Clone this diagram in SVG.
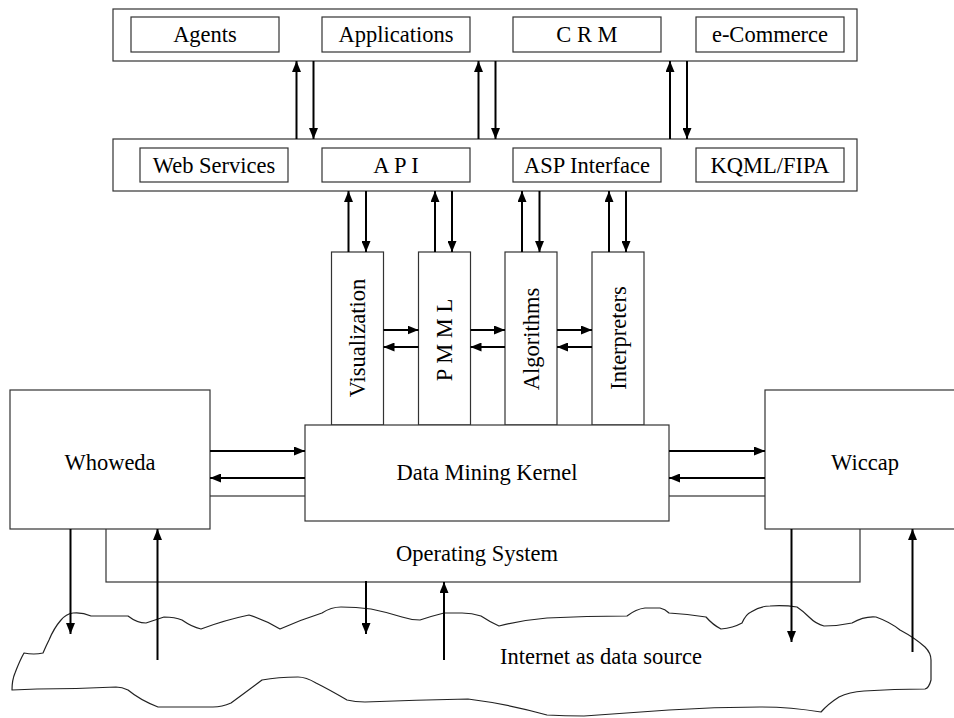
<svg xmlns="http://www.w3.org/2000/svg" width="954" height="718" viewBox="0 0 954 718">
<style>
.box{fill:#fff;stroke:#333;stroke-width:1.2}
.t{font-family:"Liberation Serif","Times New Roman",serif;font-size:22.5px;fill:#000;text-anchor:middle}
.a{stroke:#000;stroke-width:2;fill:none;marker-end:url(#ah)}
.l{stroke:#222;stroke-width:1.2;fill:none;stroke-linejoin:round}
</style>
<defs>
<marker id="ah" markerUnits="userSpaceOnUse" markerWidth="11" markerHeight="9" refX="11" refY="4.5" orient="auto">
<path d="M0,0 L11,4.5 L0,9 z" fill="#000"/>
</marker>
</defs>
<rect width="954" height="718" fill="#fff"/>

<g id="cloud">
<path class="l" d="M73,613 Q82,612 91,616 L128,616 Q137,623 146,623 L164,617 Q175,617 182,620 Q192,627 201,629 Q225,620 249,615 Q265,620 280,629 Q300,620 322,613 Q331,607 341,607 Q356,607 371,609 Q386,612 402,617 Q411,620 420,620 Q432,616 444,613 L462,613 Q472,613 481,616 Q490,622 499,626 Q523,620 547,618 Q587,616 627,616 Q636,609 645,608 L660,608 Q665,609 669,613 Q687,614 706,617 Q713,625 721,629 Q733,628 742,623 Q746,614 751,612 Q760,606 770,606 Q784,605 797,607 Q803,611 809,617 Q816,624 824,626 Q838,626 852,623 Q864,616 876,617 Q890,622 900,630 Q915,638 925,647 Q931,653 931,660 L931,680 Q929,688 925,689 Q894,689 864,691 Q849,692 839,697 Q828,704 821,712 Q790,707 760,707 Q714,707 669,710 Q626,713 584,716 Q565,716 547,715 Q508,704 468,699 Q416,700 365,702 Q355,702 347,700 Q330,690 316,683 Q306,677 298,677 Q278,677 262,680 Q246,692 231,703 Q222,707 213,707 L158,707 Q140,700 128,690 Q122,687 116,687 Q76,689 37,689 L12,690 Q12,680 15,673 Q20,660 24,653 Q34,655 43,653 Q46,646 49,640 Q54,628 61,620 Q66,614 73,613 Z"/>
<text class="t" x="601" y="664">Internet as data source</text>
</g>

<g id="os">
<rect class="box" x="106" y="496" width="754" height="86"/>
<text class="t" x="477" y="561">Operating System</text>
</g>

<g id="top-layer">
<rect class="box" x="113" y="9" width="744" height="52"/>
<g id="agents"><rect class="box" x="131" y="17" width="148" height="35"/><text class="t" x="205" y="42">Agents</text></g>
<g id="applications"><rect class="box" x="322" y="17" width="148" height="35"/><text class="t" x="396" y="42">Applications</text></g>
<g id="crm"><rect class="box" x="513" y="17" width="148" height="35"/><text class="t" x="587" y="42">C R M</text></g>
<g id="ecommerce"><rect class="box" x="696" y="17" width="148" height="35"/><text class="t" x="770" y="42">e-Commerce</text></g>
</g>

<g id="mid-layer">
<rect class="box" x="113" y="139" width="744" height="52"/>
<g id="webservices"><rect class="box" x="140" y="148" width="148" height="34"/><text class="t" x="214" y="173">Web Services</text></g>
<g id="api"><rect class="box" x="322" y="148" width="148" height="34"/><text class="t" x="396" y="173">A P I</text></g>
<g id="asp"><rect class="box" x="513" y="148" width="148" height="34"/><text class="t" x="587" y="173">ASP Interface</text></g>
<g id="kqml"><rect class="box" x="696" y="148" width="148" height="34"/><text class="t" x="770" y="173">KQML/FIPA</text></g>
</g>

<g id="visualization"><rect class="box" x="331.5" y="252" width="52" height="173"/><text class="t" x="365" y="338" transform="rotate(-90 365 338)">Visualization</text></g>
<g id="pmml"><rect class="box" x="418.5" y="252" width="52" height="173"/><text class="t" x="452" y="340" transform="rotate(-90 452 340)">P M M L</text></g>
<g id="algorithms"><rect class="box" x="505" y="252" width="52" height="173"/><text class="t" x="538.5" y="339" transform="rotate(-90 538.5 339)">Algorithms</text></g>
<g id="interpreters"><rect class="box" x="592" y="252" width="52" height="173"/><text class="t" x="625.5" y="338" transform="rotate(-90 625.5 338)">Interpreters</text></g>

<g id="kernel"><rect class="box" x="305" y="425" width="364" height="96"/><text class="t" x="487" y="480">Data Mining Kernel</text></g>
<g id="whoweda"><rect class="box" x="10" y="390" width="200" height="139"/><text class="t" x="110" y="470">Whoweda</text></g>
<g id="wiccap"><rect class="box" x="765" y="390" width="200" height="139"/><text class="t" x="865" y="470">Wiccap</text></g>

<g id="connectors">
<line class="a" x1="296.5" y1="139" x2="296.5" y2="61"/>
<line class="a" x1="313.5" y1="61" x2="313.5" y2="139"/>
<line class="a" x1="478.5" y1="139" x2="478.5" y2="61"/>
<line class="a" x1="495.5" y1="61" x2="495.5" y2="139"/>
<line class="a" x1="670" y1="139" x2="670" y2="61"/>
<line class="a" x1="687" y1="61" x2="687" y2="139"/>

<line class="a" x1="348.5" y1="252" x2="348.5" y2="191"/>
<line class="a" x1="366" y1="191" x2="366" y2="252"/>
<line class="a" x1="435" y1="252" x2="435" y2="191"/>
<line class="a" x1="452" y1="191" x2="452" y2="252"/>
<line class="a" x1="522" y1="252" x2="522" y2="191"/>
<line class="a" x1="539.5" y1="191" x2="539.5" y2="252"/>
<line class="a" x1="609" y1="252" x2="609" y2="191"/>
<line class="a" x1="626" y1="191" x2="626" y2="252"/>

<line class="a" x1="383.5" y1="330" x2="418.5" y2="330"/>
<line class="a" x1="418.5" y1="347" x2="383.5" y2="347"/>
<line class="a" x1="470.5" y1="330" x2="505" y2="330"/>
<line class="a" x1="505" y1="347" x2="470.5" y2="347"/>
<line class="a" x1="557" y1="330" x2="592" y2="330"/>
<line class="a" x1="592" y1="347" x2="557" y2="347"/>

<line class="a" x1="210" y1="451" x2="305" y2="451"/>
<line class="a" x1="305" y1="478" x2="210" y2="478"/>
<line class="a" x1="669" y1="451" x2="765" y2="451"/>
<line class="a" x1="765" y1="478" x2="669" y2="478"/>

<line class="a" x1="70.5" y1="529" x2="70.5" y2="634"/>
<line class="a" x1="157.5" y1="660" x2="157.5" y2="529"/>
<line class="a" x1="366" y1="581" x2="366" y2="634"/>
<line class="a" x1="444" y1="660" x2="444" y2="582"/>
<line class="a" x1="791.5" y1="529" x2="791.5" y2="642"/>
<line class="a" x1="912.5" y1="652" x2="912.5" y2="529"/>
</g>
</svg>
